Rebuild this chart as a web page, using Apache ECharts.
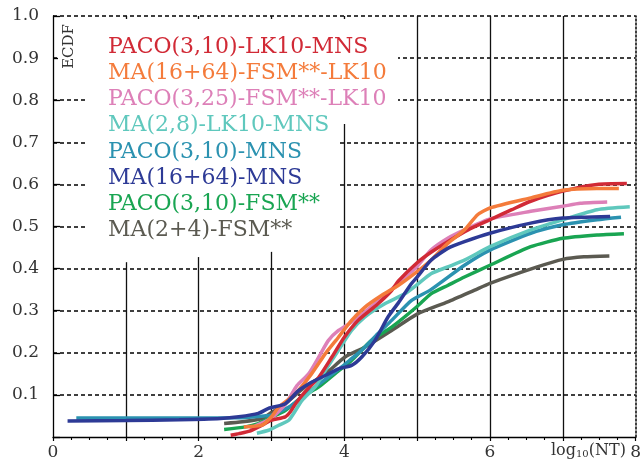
<!DOCTYPE html>
<html>
<head>
<meta charset="utf-8">
<script src="https://cdn.jsdelivr.net/npm/echarts@6/dist/echarts.min.js"></script>
<style>
  html, body { margin: 0; padding: 0; background: #fff; }
  #main { width: 644px; height: 463px; }
</style>
</head>
<body>
<div id="main"></div>
<script>
// 图例名称与颜色
var names = ['PACO(3,10)-LK10-MNS', 'MA(16+64)-FSM**-LK10', 'PACO(3,25)-FSM**-LK10', 'MA(2,8)-LK10-MNS',
             'PACO(3,10)-MNS', 'MA(16+64)-MNS', 'PACO(3,10)-FSM**', 'MA(2+4)-FSM**'];
var colors = ['#d12a36', '#f47b3b', '#dd80b8', '#5fc8bd', '#2b92b0', '#2d3a96', '#19a552', '#5b5a51'];

// 每条曲线的 x (log10(NT)) 和 y (ECDF)
var redX = [2.44, 2.55, 2.7, 2.87, 3.0, 3.19, 3.26, 3.33, 3.46, 3.65, 3.83, 4.0, 4.19, 4.46, 4.65, 4.74, 5.0, 5.2, 5.42, 5.7, 6.0, 6.3, 6.56, 7.0, 7.47, 7.88];
var redY = [0.004, 0.008, 0.014, 0.028, 0.04, 0.048, 0.06, 0.079, 0.107, 0.142, 0.19, 0.237, 0.277, 0.316, 0.348, 0.37, 0.414, 0.44, 0.464, 0.492, 0.516, 0.54, 0.56, 0.584, 0.6, 0.602];

var orangeX = [2.62, 2.87, 3.0, 3.1, 3.33, 3.55, 3.74, 3.92, 4.1, 4.28, 4.51, 4.74, 5.0, 5.19, 5.42, 5.65, 5.83, 6.0, 6.56, 7.0, 7.47, 7.77];
var orangeY = [0.024, 0.028, 0.048, 0.071, 0.103, 0.15, 0.198, 0.237, 0.277, 0.308, 0.336, 0.36, 0.393, 0.42, 0.46, 0.492, 0.528, 0.544, 0.568, 0.586, 0.59, 0.59];

var pinkX = [2.7, 3.0, 3.2, 3.35, 3.51, 3.65, 3.78, 3.92, 4.1, 4.33, 4.55, 4.83, 5.0, 5.19, 5.42, 5.65, 6.0, 6.56, 7.0, 7.24, 7.61];
var pinkY = [0.02, 0.045, 0.08, 0.122, 0.15, 0.19, 0.229, 0.253, 0.273, 0.304, 0.336, 0.379, 0.405, 0.444, 0.472, 0.492, 0.518, 0.536, 0.548, 0.555, 0.558];

var cyanX = [2.8, 2.96, 3.1, 3.24, 3.42, 3.6, 3.74, 3.92, 4.1, 4.28, 4.55, 4.83, 5.0, 5.19, 5.42, 5.65, 6.0, 6.56, 7.0, 7.47, 7.92];
var cyanY = [0.009, 0.016, 0.028, 0.04, 0.087, 0.119, 0.158, 0.206, 0.253, 0.285, 0.316, 0.34, 0.362, 0.388, 0.404, 0.42, 0.452, 0.492, 0.516, 0.54, 0.547];

var tealX = [0.32, 1.5, 2.6, 2.9, 3.0, 3.24, 3.42, 3.6, 3.78, 3.96, 4.1, 4.24, 4.46, 4.65, 4.92, 5.19, 5.65, 6.0, 6.56, 7.0, 7.47, 7.8];
var tealY = [0.045, 0.045, 0.046, 0.05, 0.052, 0.071, 0.095, 0.119, 0.142, 0.166, 0.186, 0.206, 0.245, 0.277, 0.324, 0.35, 0.408, 0.444, 0.484, 0.504, 0.516, 0.522];

var blueX = [0.2, 1.0, 1.73, 2.3, 2.55, 2.82, 2.96, 3.19, 3.37, 3.55, 3.74, 3.92, 4.1, 4.24, 4.42, 4.6, 4.74, 4.92, 5.0, 5.19, 5.42, 5.65, 6.0, 6.56, 7.0, 7.65];
var blueY = [0.038, 0.039, 0.041, 0.044, 0.048, 0.056, 0.068, 0.079, 0.11, 0.13, 0.146, 0.162, 0.17, 0.19, 0.229, 0.285, 0.318, 0.364, 0.38, 0.42, 0.448, 0.464, 0.484, 0.508, 0.52, 0.524];

var greenX = [2.35, 2.64, 2.82, 2.96, 3.19, 3.42, 3.65, 3.87, 4.1, 4.37, 4.65, 5.0, 5.19, 5.42, 5.65, 6.0, 6.56, 7.0, 7.47, 7.84];
var greenY = [0.018, 0.024, 0.032, 0.044, 0.063, 0.095, 0.119, 0.15, 0.182, 0.229, 0.261, 0.31, 0.34, 0.36, 0.38, 0.408, 0.452, 0.472, 0.48, 0.483];

var grayX = [2.35, 2.6, 2.87, 3.0, 3.19, 3.46, 3.74, 4.01, 4.28, 4.65, 5.0, 5.42, 5.79, 6.0, 6.65, 7.0, 7.29, 7.64];
var grayY = [0.032, 0.036, 0.044, 0.058, 0.079, 0.119, 0.15, 0.19, 0.213, 0.253, 0.292, 0.321, 0.349, 0.365, 0.404, 0.422, 0.428, 0.43];

var xTickLabels = ['0', '', '2', '', '4', '', '6', '', '8'];

var curves = [
    [redX, redY], [orangeX, orangeY], [pinkX, pinkY], [cyanX, cyanY],
    [tealX, tealY], [blueX, blueY], [greenX, greenY], [grayX, grayY]
];
// 画的顺序 (后画的在上面)
var drawOrder = [7, 6, 4, 3, 2, 0, 1, 5];

function pairs(xs, ys) {
    return xs.map(function (x, i) { return [x, ys[i]]; });
}

var serif = 'DejaVu Serif';
var myChart = echarts.init(document.getElementById('main'));

var series = drawOrder.map(function (k) {
    return {
        name: names[k],
        type: 'line',
        data: pairs(curves[k][0], curves[k][1]),
        showSymbol: false,
        smooth: 0.2,
        z: 3,
        lineStyle: { color: colors[k], width: 3.5 },
        itemStyle: { color: colors[k] }
    };
});

// 图例文字
var legendTexts = names.map(function (n, i) {
    return {
        type: 'text',
        left: 108,
        top: 36 + i * 26.2,
        z: 20,
        style: { text: n, fill: colors[i], font: '22px "' + serif + '"' }
    };
});

option = {
    animation: false,
    grid: { left: 53, right: 7, top: 16, bottom: 26 },
    xAxis: {
        type: 'value',
        min: 0, max: 8, interval: 1,
        axisLine: { lineStyle: { color: '#000', width: 1.3 } },
        axisTick: { show: true, inside: false, length: 4, lineStyle: { color: '#000', width: 1.2 } },
        minorTick: { show: true, splitNumber: 4, length: 3, lineStyle: { color: '#000', width: 1.1 } },
        axisLabel: {
            margin: 7, color: '#333', fontFamily: serif, fontSize: 17,
            showMaxLabel: true,
            formatter: function (v) { return xTickLabels[Math.round(v)] || ''; }
        },
        splitLine: { show: true, showMinLine: false, showMaxLine: false, lineStyle: { color: '#111', width: 1.3 } }
    },
    yAxis: [{
        type: 'value',
        min: 0, max: 1, interval: 0.1,
        axisLine: { show: true, lineStyle: { color: '#000', width: 1.3 } },
        axisTick: { show: true, inside: true, length: 7, lineStyle: { color: '#000', width: 1.3 } },
        axisLabel: {
            margin: 14, color: '#333', fontFamily: serif, fontSize: 17,
            formatter: function (v) { return v === 0 ? '' : v.toFixed(1); }
        },
        splitLine: { show: true, showMinLine: false, lineStyle: { color: '#000', width: 1.5, type: [4, 3] } }
    }, {
        type: 'value',
        position: 'right',
        min: 0, max: 1,
        axisLine: { show: true, lineStyle: { color: '#000', width: 1.5, type: [2, 2] } },
        axisTick: { show: false },
        axisLabel: { show: false },
        splitLine: { show: false }
    }],
    graphic: [
        {   // 图例的白底
            type: 'polygon',
            z: 10,
            shape: { points: [[58, 19], [398, 19], [398, 124], [340, 124], [340, 247], [87, 265], [87, 82], [58, 82]] },
            style: { fill: '#fff' }
        },
        {
            type: 'text',
            left: 62, top: 24, z: 20,
            rotation: Math.PI / 2,
            style: { text: 'ECDF', fill: '#333', font: '15px "' + serif + '"' }
        },
        {
            type: 'text',
            left: 551, top: 443, z: 20,
            style: {
                text: '{a|log}{b|10}{a|(NT)}',
                rich: {
                    a: { fontFamily: serif, fontSize: 16, fill: '#333', verticalAlign: 'bottom' },
                    b: { fontFamily: serif, fontSize: 10, fill: '#333', verticalAlign: 'bottom', padding: [0, 0, 0, 0] }
                }
            }
        }
    ].concat(legendTexts),
    series: series
};

myChart.setOption(option);
</script>
</body>
</html>
